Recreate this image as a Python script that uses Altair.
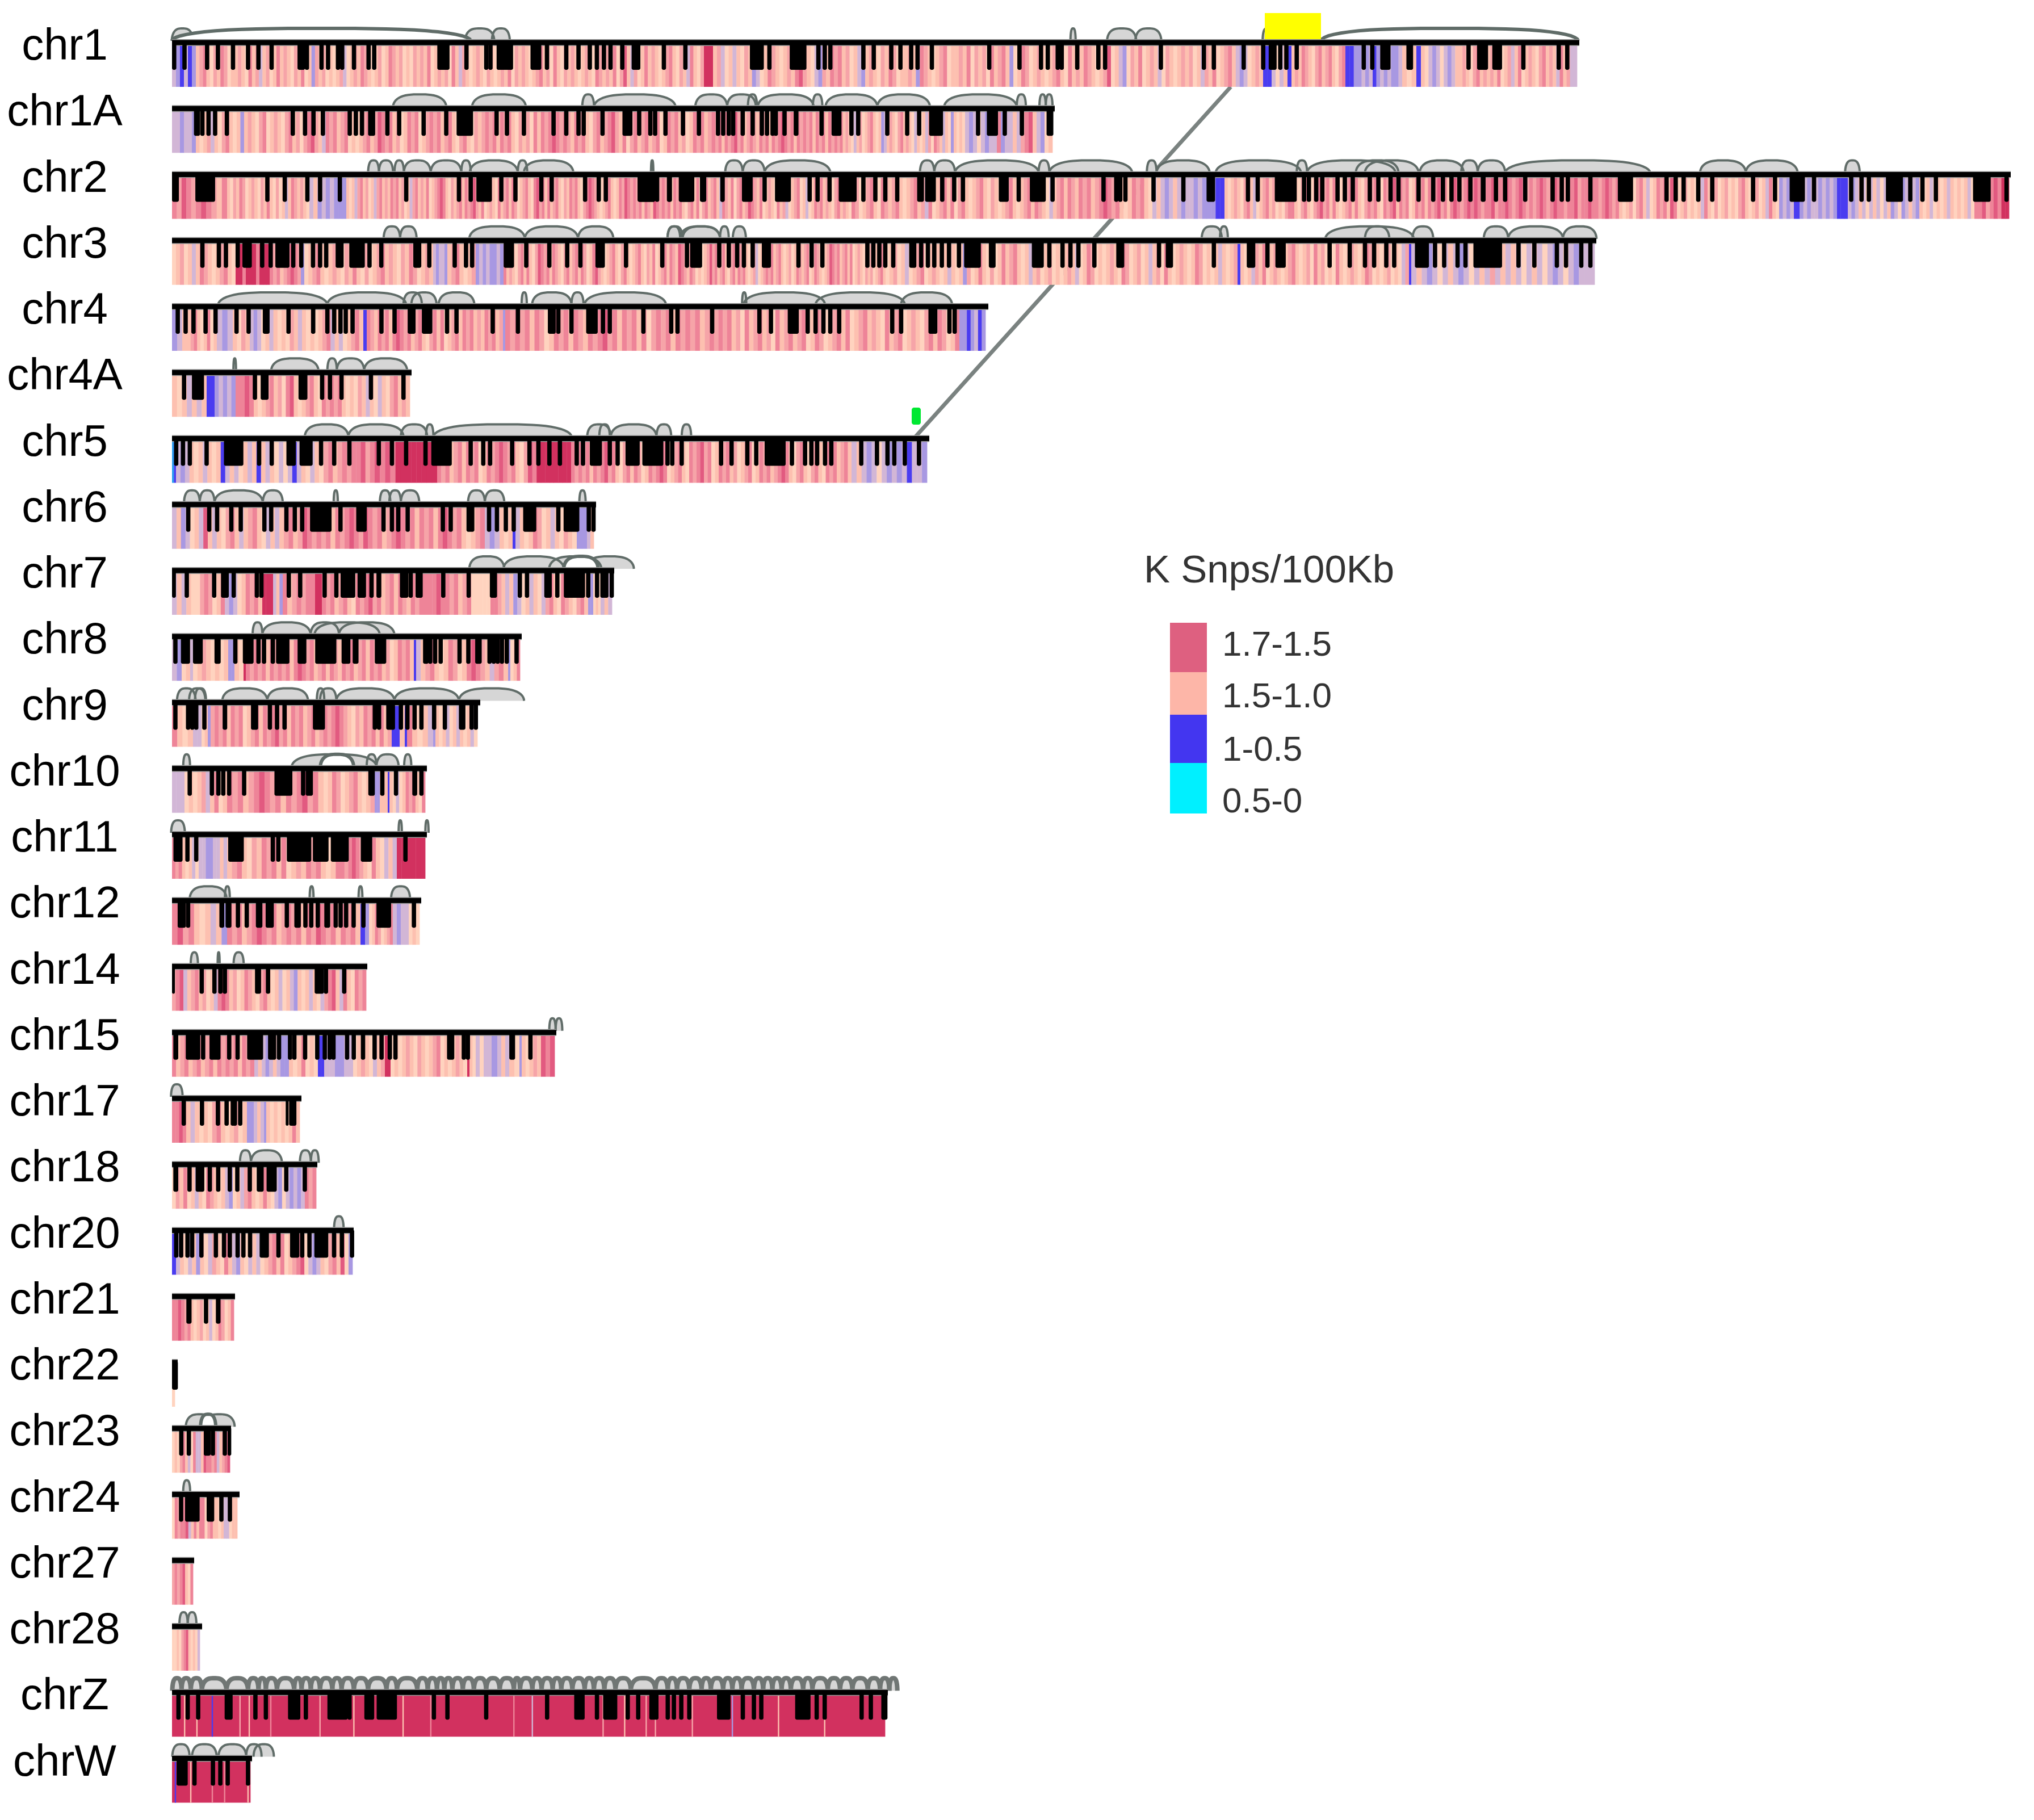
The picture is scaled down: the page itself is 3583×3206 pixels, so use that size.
import math
import re
import altair as alt
import pandas as pd

alt.data_transformers.disable_max_rows()

CHROMS = ["chr1","chr1A","chr2","chr3","chr4","chr4A","chr5","chr6","chr7","chr8","chr9","chr10","chr11","chr12",
          "chr14","chr15","chr17","chr18","chr20","chr21","chr22","chr23","chr24","chr27","chr28","chrZ","chrW"]
START = 303
ROW0, ROWSTEP = 75, 116.25
LINE_END = [2782,1858,3542,2812,1741,725,1637,1050,1082,919,846,752,752,742,647,980,531,559,623,414,313,407,422,342,356,1564,444]
HEAT_END = [2778,1854,3539,2809,1736,722,1633,1046,1078,916,841,749,749,739,645,977,528,557,621,412,308,405,418,340,352,1559,441]

# positions are read per reading window: (window left edge, magnification)
WIN = {"A":(0,1.206),"B":(1100,1.4255),"C":(1900,0.9317),"D":(290,1.0814),"E":(290,1.742),"F":(290,1.96),"G":(290,3.0),"H":(0,0.9224)}

HEAT_CODES = ["c","d","r","p","s","l","v","u","b","a"]
HEAT_COLORS = ["#D2315F","#E25A80","#EE8498","#F6A4A8","#FDC0B0","#FFD3BF","#D2B6D6","#A898E2","#4A3CF0","#2A9CF0"]

HEAT = {
"chr1":[(345,"vubvbu"),(1240,"sprslpsrplsspslrspvsplsrspslpsrlsupsplslspvlspsrpslsplsrpsplslpspsrlspsplrsvpslspslpslspsrlpspslsprsplrslpspslspslrpspsrlpcsvplsrspslsprslpsvrslp"),(1256,"cc"),
 (2225,"spvlsvslpsuvlsrpslspsrcpslvupsrprsplsvuspslpsrplsspsurpslsprlsspsrlpsplrsprsulsrplspslsprslrspsrpslspclsvulpsrlspsvlpslspsplsvpsrlsprsvuvlsps"),(2240,"bb"),(2268,"vlvs"),(2275,"b"),(2370,"spsrpslprsprslpr"),(2392,"bbu"),(2470,"uvuvbuvuvuuv"),(2495,"sls"),(2503,"b"),(2570,"slvuvlvuvs"),(2778,"spslprspspsrlspvsrlspslprspsvrspvv")],
"chr1A":[(345,"vvuvvu"),(1260,"slspvslprslsuspslprlspslprsplprcpsvrprsprlslsprspcrprsplsrprlsprprsprslprslpsprprsrprslpsplrsrprcrprpsrprslprsprcpsrlprsprsprlsrprsplsrprspr"),(1470,"prsrprcprsprpsrprsrprcrprsrprprsrprsrp"),(1620,"rprspslvsplsprslsuvspslprspslvs"),(1700,"lsvplrpsvsluslsl"),(1854,"vuvlvuvvruvvsvprcsvuls")],
"chr2":[(345,"rpcrp"),(400,"rcrpsr"),(545,"slpsrplspslpsrslplsvsrpspsl"),(610,"vsuvuvuuu"),(1100,"slsvprsplsvprspsrprsplsvprspsrlsprcrslpsprsrprcpsrlspslrsprsrplsprslrcprsrsprslpsrprslprcrpslsprslsrp"),(1500,"crprprsrpscrprprsrprslprsrlprsprsvrpsrlprspcrpsrlspslrspvlsprlsvlsrprspslprspsl"),(1900,"rplsprslrpsprslsprspvrlsprsrlprslsprslpslsprslsprsrpslvsprsrps"),(2030,"rprsprcrprslsrprsl"),(2110,"vsvuvsvuvvu"),(2157,"vuuubb"),(2560,"slspslprsvlsprsplslprrslprslprcprsrslsprsrslprprslrprcsrprlsrprsrprcprsr"),(2840,"crprcrcrprrcprrcrprcrprprcrprcrrprrcprrcrrprcr"),(3134,"prslsplprsvlsrprscrlsplslsvrslplsplslprslsplsvrsl"),(3160,"uvuv"),(3170,"bb"),(3236,"uvuvvuvuvu"),(3255,"bbb"),(3381,"vuvsvlvsvlvsuvluvsvu"),(3478,"slsvlslsvslslsvl"),(3539,"rrcprcrcc")],
"chr3":[(415,"lsplsvsrpslsprsl"),(475,"ccrcccrccc"),(530,"rprsprcrp"),(536,"u"),(763,"lsprslspslpsrslplsprspslpsrplsps"),(788,"vuvvu"),(838,"sprslsp"),(887,"uvuvuuvu"),(1250,"rspslprsrslpcrprsrpslprsprsrplsrcpslsprslprslsprslpsrlsprsrpscrpsrplslsp"),(1560,"cprsprslprsrprslspvlsprprsprslsplsrpsprlsrpslspcrprsprsrlspslpsplsprs"),(2180,"lsplsvlsprlspslsvslsuplsrslplsrsprslsvsplsplslspsvlsrplslspslrplsplsvsplrslspslsrplslsvslsp"),(2185,"b"),(2482,"slsvpsrlspslsprslsplrsplslrslspslsrplslsplslvp"),(2486,"b"),(2809,"vsvuvlvsvuvlvsvpvsvsvlvsvlvuvlvuvvv")],
"chr4":[(330,"uvs"),(382,"sprslsrls"),(410,"vuv"),(440,"slps"),(460,"vuv"),(640,"lsvslslpsvslslsprvsvlsprs"),(646,"b"),(886,"rpsrprsrcrprsprslprsrlsprsrprspsrprsp"),(890,"u"),(1250,"rprprsrplsrprsrpsrprcprsrprsrlprprsrprprsp"),(1690,"rprprsplrsprsplrsprsprlsrplsprsrlsprspslrsprlspslprsrplsr"),(1736,"uubuvbu")],
"chr4A":[(364,"slsvsvs"),(378,"bb"),(415,"uvuvu"),(447,"rrcr"),(722,"slsprsplrcslsprslrprprslslpsvslvslprsps")],
"chr5":[(310,"ab"),(570,"vuvslsvslsbvsvlsvsbsvslvlvbvslvsl"),(660,"prsprprrcpr"),(770,"crcrcccccccc"),(930,"rprsprsrprlsrprcrprslp"),(1006,"crcccccccc"),(1500,"rprprsrprcprslprsrplsrprcrlsprslrprcprlsrprsplsprlsrprsprcrslprslprslrprsprs"),(1633,"vsvuvlvuvuvbvvu")],
"chr6":[(500,"vsuvlsvcsvslprsvsprslvsvs"),(854,"prspcrprprsrprcrpcrprsprcrprsrprsrcrprslspr"),(880,"vuv"),(903,"sls"),(908,"b"),(1016,"vslsrplsvslpsl"),(1034,"uu"),(1046,"vs")],
"chr7":[(345,"vsvsl"),(462,"lprplsrvuvlsrprs"),(481,"ccc"),(498,"vsu"),(555,"rsprprr"),(567,"cc"),(746,"rprsprslrprcprsprsrpsrpr"),(784,"rrrcr"),(830,"rprspr"),(864,"lllll"),(890,"rrps"),(961,"vsuvlsvslv"),(1036,"prslrpslprs"),(1045,"uu"),(1058,"lsl"),(1078,"vsv")],
"chr8":[(320,"vu"),(335,"ls"),(340,"v"),(402,"lspslsls"),(413,"uu"),(429,"sl"),(433,"c"),(729,"rprprsrprprsrcrprsprsrpsrprsprsrprsplsrprs"),(733,"b"),(895,"vsprslsrplsrcrpsvprs"),(899,"u"),(916,"lsr")],
"chr9":[(340,"rsls"),(355,"vv"),(366,"ls"),(371,"u"),(690,"prprsrprlsprsrprcprsrprsprsprprcrpslpsrprsrsp"),(704,"b"),(713,"s"),(717,"b"),(763,"rslsv"),(767,"u"),(841,"slsvlsvslsvl")],
"chr10":[(325,"vvv"),(400,"lslspvsrls"),(570,"rprsprcrprsrprcprs"),(660,"lsrplsprslsp"),(669,"uu"),(683,"ss"),(686,"b"),(749,"slvlsrprslr")],
"chr11":[(350,"rprslsvl"),(400,"vvuuvvsv"),(600,"sprslpsrprsrlspsrprslsr"),(640,"rprcrp"),(699,"slrslvsv"),(749,"cccccc")],
"chr12":[(400,"rcprslsvsu"),(635,"rprsprcrprsprprsrpcrprsrprs"),(643,"b"),(650,"u"),(692,"lsrplspr"),(720,"vuvv"),(739,"lsl")],
"chr14":[(645,"prcvsprsplsvrcrsplsrpslprslsvlsvuslsvslvprcsvrslrpr")],
"chr15":[(448,"rsprsprsprsrprprsrpr"),(494,"vsvuvsv"),(509,"uu"),(560,"slsrlsl"),(571,"bb"),(590,"vv"),(606,"uu"),(622,"vv"),(678,"lspslvsp"),(688,"cc"),(823,"lslspslpslsprlslspsl"),(827,"c"),(838,"sl"),(866,"vlvv"),(876,"u"),(897,"vsv"),(915,"sl"),(919,"u"),(953,"slsps"),(977,"crc")],
"chr17":[(328,"rrcr"),(435,"svslslprslspls"),(447,"uu"),(465,"vsv"),(469,"u"),(528,"slslslsrs")],
"chr18":[(557,"lpsrlsvslrpslsvulsvprslsrslvulvuvuvrpr")],
"chr20":[(621,"bvslvsuslvpslrsvuslvsvlsprsrlsprclvuvslprsclu")],
"chr21":[(412,"rrcrprslsplsvlsrplsr")],
"chr22":[(308,"l")],
"chr23":[(405,"lslprsvlrvvscrrprvsprc")],
"chr24":[(418,"lrprrcvsrsrrlprsslsvvlss")],
"chr27":[(340,"prprcslr")],
"chr28":[(352,"llslprcslslv")],
"chrZ":[(1559,"c")],
"chrW":[(441,"c")],
}
# hair-thin stripes over the solid sex-chromosome tracks
THIN = {
"chrZ":[(300,"s"),(320,"s"),(345,"b"),(390,"p"),(405,"s"),(440,"r"),(520,"p"),(575,"s"),(655,"s"),(700,"r"),(835,"r"),(865,"v"),(980,"p"),(1015,"s"),(1050,"p"),(1065,"p"),(1125,"p"),(1190,"u"),(1265,"s"),(1340,"s")],
"chrW":[(285,"b"),(310,"s"),(345,"r"),(365,"r"),(403,"s")],
}

TEETH = {
"chr1":[("A",[370,392,440,463,495,527,549,577,(632,648),652,683,697,718,727,752,783,795,(929,955),991,1033,1042,(1055,1090),(1127,1150),1162,1203,1229,1253,1268,1283,1297,1322]),
        ("B",[(18,40),99,153,(315,350),364,(415,457),487,503,517,600,626,670,693,720,736,772,916,992,1046,1063,1088,1098,1137,1190,1207,1347,1455,1480,1555]),
        ("C",[303,(312,325),331,341,358,468,482,(495,512),(538,549),640,(654,672),(679,695),730,788,802])],
"chr1A":[("A",[(412,425),430,443,457,482,622,648,666,686,743,756,769,(782,797),823,848,900,948,(970,1005),1055,1077,1113,1176,1203,1229,1240,1280]),
         ("B",[(-5,20),37,65,77,103,147,187,235,248,262,273,297,322,345,358,372,380,402,(425,437),495,(520,545),570,587,660,710,740,(765,800),888,(910,938),955,998,(1060,1077)])],
"chr2":[("A",[(365,380),(415,457),568,605,653,680,722,863,975,1000,(1012,1045),1065,1095,1150,1172,1243,1272,1287,(1355,1392),1423,(1442,1475),1493,1535]),
        ("B",[(33,77),82,112,(137,170),195,200,246,(295,322),352,(378,418),465,485,515,(538,583),600,630,655,685,(735,752),(755,782),798,828,850,(940,965),990,(1018,1058),1075,1203,1235,1245,1258]),
        ("C",[123,172,(210,224),278,294,(322,358),370,378,390,400,425,437,450,478,492,512,525,558,582,598,612,625,643,(660,668),685,700,733,778,793,803,840,(885,910),965,980,993,1017,1040,1107,1143,(1167,1192),1207,1268,1285,1297,(1325,1353),1365,1385,1407,(1468,1497),1523])],
"chr3":[("A",[430,465,480,505,(515,535),557,575,(585,615),623,640,665,680,693,(713,730),(742,775),785,810,(878,895),912,966,990,1003,(1070,1092),1118,1167,1205,1233,(1265,1285),1330]),
        ("B",[95,157,(165,195),238,262,283,300,322,(345,368),437,470,497,610,625,640,655,675,(715,733),745,762,778,797,815,840,(853,895),(915,932),(1023,1053),1067,1100,1120,1140,1180,(1235,1255)]),
        ("C",[132,(143,155),222,(276,290),310,(323,340),412,445,470,485,505,518,(552,575),585,600,622,635,(648,695),722,748,785,800,825,840])],
"chr4":[("D",[25,40,55,78,97,137,160,(187,200),236,283,310,323,335,345,358,413,438,(463,478),(490,510),538,556,625,673,(730,745),750,775,(803,825),835,848,912,965,977,1043,1133,1155,(1187,1208),1225,1240,1255,1268,1285,1386,1403,(1455,1472),1495,1505])],
"chr4A":[("D",[37,(52,75),172,(183,198),(255,272),300,315,337,393,455])],
"chr5":[("D",[22,35,48,80,(113,150),180,204,(232,250),(257,282),298,323,352,408,433,460,497,(508,547),583,607,620,662,695,712,733,753,785,797,(810,833),848,863,(878,905),(910,950),958,967,985,1060,1080,1110,1127,(1143,1183),1195,1220,1232,1243,1258,1270,1327,1357,1377,1390,1410,1437])],
"chr6":[("D",[45,85,100,127,145,190,203,232,248,262,(277,318),335,(365,385),417,433,445,463,530,545,(575,590),618,633,650,665,(683,708),750,(760,790),808,817])],
"chr7":[("E",[28,68,152,(173,197),212,283,297,381,416,491,527,(540,585),(592,618),635,(650,665),(722,748),755,(770,792),855,933,(998,1020),1090,1112,(1165,1188),1205,(1225,1290),1300,1327,(1337,1362),1372])],
"chr8":[("E",[33,(50,78),(87,117),(153,172),217,(240,273),288,305,332,(342,383),(408,435),(462,527),(543,570),(577,595),(645,680),(793,810),815,830,847,905,932,(953,973),997,1010,1022,1035,1050,1080])],
"chr9":[("E",[33,72,85,97,122,(178,192),(265,287),323,345,368,(455,492),645,658,(680,707),725,745,767,788,827,860,(903,923),942,955])],
"chr10":[("E",[77,145,165,180,198,244,(337,392),425,(433,455),(625,645),668,710,(760,775),788])],
"chr11":[("E",[(27,55),70,97,(195,243),332,349,(375,450),(455,503),(510,565),(602,637),739])],
"chr12":[("E",[(40,65),72,(168,183),(187,205),225,252,(280,300),(310,335),375,(398,418),432,450,470,(490,508),525,540,557,580,610,(650,695),765])],
"chr14":[("F",[28,128,172,(185,200),208,(312,333),357,(518,550),557,620])],
"chr15":[("F",[(30,47),(73,123),133,(155,193),223,252,(285,340),(357,385),395,433,448,485,527,553,570,583,630,653,685,725,749,(770,785),797,(975,1000),1033,1047,(1190,1210),1263])],
"chr17":[("F",[66,129,184,214,(228,250),261,(418,428),(430,455)])],
"chr18":[("F",[(30,47),86,(107,137),156,185,225,251,294,(318,342),(352,387),420,484])],
"chr20":[("F",[40,57,79,95,127,177,205,225,252,272,295,(328,360),393,(433,465),475,500,(517,565),585,612,647])],
"chr21":[("F",[(75,93),143,(177,193)])],
"chr22":[("G",[(37,70)])],
"chr23":[("G",[88,128,(207,243),255,318,(333,352)])],
"chr24":[("G",[87,(108,185),(222,262),300,345])],
"chr27":[],
"chr28":[],
"chrZ":[("H",[290,305,322,(365,378),415,432,(468,488),497,(532,565),568,(592,608),(612,645),705,727,790,889,(933,950),970,(980,1003),1020,1037,(1055,1070),1085,1095,1107,1120,(1165,1187),1207,1225,1237,(1292,1317),1327,1340,1400,1415,(1432,1442)])],
"chrW":[("H",[(287,305),316,346,358,370,403])],
}

# arcs: (window, start, end, fill)  g = grey, w = open (white inside)
ARCS = {
"chr1":[("A",365,1000,"w"),("A",365,410,"g"),("A",988,1050,"g"),("A",1045,1083,"g"),("B",1120,1133,"g"),("B",1212,1285,"g"),("B",1283,1348,"g"),("C",302,316,"g"),("C",398,820,"w")],
"chr1A":[("A",835,948,"g"),("A",1003,1117,"g"),("A",1237,1262,"g"),("A",1262,1435,"g"),("B",178,258,"g"),("B",258,330,"g"),("B",310,333,"g"),("B",335,475,"g"),("B",473,497,"g"),("B",505,635,"g"),("B",635,767,"g"),("B",803,985,"g"),("B",985,1008,"g"),("B",1042,1058,"g"),("B",1058,1075,"g")],
"chr2":[("A",782,805,"g"),("A",805,835,"g"),("A",838,858,"g"),("A",858,915,"g"),("A",915,980,"g"),("A",980,1000,"g"),("A",998,1100,"g"),("A",1100,1120,"g"),("A",1113,1218,"g"),("A",1383,1388,"g"),("B",253,297,"g"),("B",297,352,"g"),("B",352,517,"g"),("B",742,778,"g"),("B",778,830,"g"),("B",830,1040,"g"),("B",1040,1067,"g"),("B",1067,1275,"g"),("C",112,128,"g"),("C",128,215,"g"),("C",225,365,"g"),("C",358,375,"g"),("C",375,520,"g"),("C",455,525,"g"),("C",470,558,"g"),("C",560,632,"g"),("C",628,655,"g"),("C",655,700,"g"),("C",700,938,"g"),("C",1020,1095,"g"),("C",1095,1180,"g"),("C",1258,1282,"g")],
"chr3":[("A",815,850,"g"),("A",850,885,"g"),("A",997,1115,"g"),("A",1115,1228,"g"),("A",1228,1303,"g"),("A",1418,1450,"g"),("A",1450,1530,"g"),("B",108,140,"g"),("B",140,240,"g"),("B",240,262,"g"),("B",272,305,"g"),("C",202,235,"g"),("C",232,245,"g"),("C",405,550,"g"),("C",470,510,"g"),("C",548,582,"g"),("C",665,705,"g"),("C",705,795,"g"),("C",795,850,"g")],
"chr4":[("D",102,310,"g"),("D",310,460,"g"),("D",455,490,"g"),("D",470,518,"g"),("D",522,590,"g"),("D",680,690,"g"),("D",700,775,"g"),("D",775,798,"g"),("D",800,955,"g"),("D",1100,1108,"g"),("D",1103,1258,"g"),("D",1240,1410,"g"),("D",1403,1500,"g")],
"chr4A":[("D",131,136,"g"),("D",203,293,"g"),("D",310,328,"g"),("D",328,380,"g"),("D",380,462,"g")],
"chr5":[("D",267,350,"g"),("D",350,455,"g"),("D",450,500,"g"),("D",498,512,"g"),("D",512,775,"g"),("D",805,850,"g"),("D",828,848,"g"),("D",850,937,"g"),("D",937,965,"g"),("D",985,1003,"g")],
"chr6":[("D",37,67,"g"),("D",67,95,"g"),("D",95,187,"g"),("D",187,225,"g"),("D",322,330,"g"),("D",410,430,"g"),("D",428,450,"g"),("D",450,485,"g"),("D",578,610,"g"),("D",610,647,"g"),("D",790,802,"g")],
"chr7":[("E",935,1042,"g"),("E",1040,1225,"g"),("E",1180,1340,"g"),("E",1290,1440,"g"),("E",1225,1330,"w")],
"chr8":[("E",270,300,"g"),("E",300,448,"g"),("E",460,660,"g"),("E",448,535,"g"),("E",535,705,"g")],
"chr9":[("E",38,95,"g"),("E",75,125,"g"),("E",93,127,"g"),("E",177,315,"g"),("E",315,440,"g"),("E",467,490,"g"),("E",477,527,"g"),("E",527,705,"g"),("E",705,903,"g"),("E",903,1103,"g")],
"chr10":[("E",57,78,"g"),("E",390,650,"g"),("E",620,650,"g"),("E",650,718,"g"),("E",735,757,"g"),("E",478,580,"w")],
"chr11":[("E",20,62,"g"),("E",718,728,"g"),("E",800,810,"g")],
"chr12":[("E",77,190,"g"),("E",185,200,"g"),("E",445,457,"g"),("E",595,607,"g"),("E",695,753,"g")],
"chr14":[("F",90,115,"g"),("F",183,190,"g"),("F",238,273,"g")],
"chr15":[("F",1328,1350,"g"),("F",1350,1373,"g")],
"chr17":[("F",22,62,"g")],
"chr18":[("F",260,298,"g"),("F",298,405,"g"),("F",467,505,"g"),("F",505,532,"g")],
"chr20":[("F",585,618,"g")],
"chr23":[("G",112,260,"g"),("G",205,370,"g"),("G",190,270,"w")],
"chr24":[("G",98,135,"g")],
"chr28":[("G",78,122,"g"),("G",122,168,"g")],
"chrW":[("H",280,308,"g"),("H",312,352,"g"),("H",355,400,"g"),("H",400,425,"g"),("H",412,445,"g")],
}
Z_ARC_EDGES = [280,295,310,328,368,403,420,432,450,478,490,505,520,540,555,575,598,628,645,678,695,710,722,735,752,770,790,812,835,845,865,880,898,912,930,950,965,982,1000,1025,1065,1085,1100,1120,1140,1155,1175,1190,1205,1225,1240,1255,1270,1285,1305,1320,1345,1365,1385,1410,1430,1445,1458]
ARCS["chrZ"] = [("H",a,b,"g") for a,b in zip(Z_ARC_EDGES[:-1],Z_ARC_EDGES[1:])]

LEGEND_TITLE = "K Snps/100Kb"
LEGEND_LABELS = ["1.7-1.5","1.5-1.0","1-0.5","0.5-0"]
LEGEND_COLORS = ["#DE6080","#FDB6A8","#4336F0","#00F0FF"]
LEGEND_EDGES = [1097,1184,1259,1344,1433]
LEGEND_TEXT_Y = [1136,1227,1321,1412]

def full(win, v):
    x0, k = WIN[win]
    return x0 + v / k

row_y = {c: ROW0 + i * ROWSTEP for i, c in enumerate(CHROMS)}

# a lone crimson stripe reads softer than a solid crimson run in the picture
def soften(codes):
    return re.sub(r"(?<!c)c(?!c)", "d", codes) if len(codes) > 1 else codes

heat_rows, teeth_rows, line_rows, arc_rows = [], [], [], []
for i, c in enumerate(CHROMS):
    y = row_y[c]
    line_rows.append(dict(x=START, x2=LINE_END[i], y=y))
    prev = START
    segs = HEAT.get(c, [])
    segs = segs[:-1] + [(HEAT_END[i], segs[-1][1])]
    for end, codes in segs:
        codes = soften(codes)
        w = (end - prev) / len(codes)
        for j, code in enumerate(codes):
            heat_rows.append(dict(x=prev + j * w, x2=prev + (j + 1) * w + 0.4, y=y + 4, y2=y + 78, code=code))
        prev = end
    for v, code in THIN.get(c, []):
        m = full("H", v)
        heat_rows.append(dict(x=m - 1.2, x2=m + 1.2, y=y + 4, y2=y + 78, code=code))
    for win, vals in TEETH.get(c, []):
        for v in vals:
            if isinstance(v, tuple):
                a, b = full(win, v[0]), full(win, v[1])
            else:
                m = full(win, v)
                a, b = m - 3.8, m + 3.8
            teeth_rows.append(dict(x=max(a, START), x2=b, y=y, y2=y + 48))
    for n, (win, a, b, fill) in enumerate(ARCS.get(c, [])):
        xa, xb = full(win, a), full(win, b)
        mid, half = (xa + xb) / 2, (xb - xa) / 2
        for k in range(-14, 15):
            s = math.sin(k / 14 * math.pi / 2)
            rise = (1 - abs(s) ** 3) ** 0.5
            arc_rows.append(dict(id=f"{c}-{n}", k=k, x=mid + half * s, y=y - 3 - 22 * rise, y2=y - 3, kind=fill, dense=c == "chrZ"))

X = alt.Scale(domain=[8, 3575], nice=False, zero=False)
Y = alt.Scale(domain=[3198, 8], nice=False, zero=False)
xe = lambda f="x": alt.X(f"{f}:Q", scale=X, axis=None, title=None)
ye = lambda f="y": alt.Y(f"{f}:Q", scale=Y, axis=None, title=None)
x2e = alt.X2("x2:Q")
y2e = alt.Y2("y2:Q")

link = alt.Chart(pd.DataFrame(dict(x=[1612, 2168], y=[770, 153]))).mark_line(color="#7A8280", strokeWidth=7).encode(x=xe(), y=ye())

heat = alt.Chart(pd.DataFrame(heat_rows)).mark_rect().encode(
    x=xe(), x2=x2e, y=ye(), y2=y2e,
    color=alt.Color("code:N", scale=alt.Scale(domain=HEAT_CODES, range=HEAT_COLORS), legend=None))

arcs = pd.DataFrame(arc_rows)
grey = arcs[(arcs.kind == "g") & (~arcs.dense)]
dense = arcs[arcs.dense]
open_ = arcs[arcs.kind == "w"]
arc_fill = alt.Chart(pd.concat([grey, dense])).mark_area(color="#D6D6D6", opacity=1, orient="vertical", line=False).encode(
    x=xe(), y=ye(), y2=y2e, detail="id:N")
arc_stroke = alt.Chart(grey).mark_line(color="#606C68", strokeWidth=4).encode(
    x=xe(), y=ye(), detail="id:N", order="k:Q")
dense_stroke = alt.Chart(dense).mark_line(color="#707674", strokeWidth=8).encode(
    x=xe(), y=ye(), detail="id:N", order="k:Q")
open_fill = alt.Chart(open_).mark_area(color="#FFFFFF", opacity=1, orient="vertical", line=False).encode(
    x=xe(), y=ye(), y2=y2e, detail="id:N")
open_stroke = alt.Chart(open_).mark_line(color="#606C68", strokeWidth=6).encode(
    x=xe(), y=ye(), detail="id:N", order="k:Q")

lines = pd.DataFrame(line_rows)
halo = alt.Chart(lines).mark_rule(color="#9A9A9A", strokeWidth=12).encode(x=xe(), x2=x2e, y=ye())
line = alt.Chart(lines).mark_rule(color="#000000", strokeWidth=9).encode(x=xe(), x2=x2e, y=ye())

teeth = alt.Chart(pd.DataFrame(teeth_rows)).mark_rect(color="#000000", cornerRadiusBottomLeft=3, cornerRadiusBottomRight=3).encode(
    x=xe(), x2=x2e, y=ye(), y2=y2e)

yellow = alt.Chart(pd.DataFrame(dict(x=[2228], x2=[2327], y=[23], y2=[72]))).mark_rect(color="#FFFF00").encode(
    x=xe(), x2=x2e, y=ye(), y2=y2e)
green = alt.Chart(pd.DataFrame(dict(x=[1606], x2=[1622], y=[718], y2=[748]))).mark_rect(color="#00E832", cornerRadius=4).encode(
    x=xe(), x2=x2e, y=ye(), y2=y2e)

labels = alt.Chart(pd.DataFrame(dict(x=[114] * len(CHROMS), y=[row_y[c] + 7 for c in CHROMS], t=CHROMS))).mark_text(
    font="Liberation Sans", fontSize=78, color="#000000", align="center", baseline="middle").encode(
    x=xe(), y=ye(), text="t:N")

leg_rect = alt.Chart(pd.DataFrame(dict(x=[2061] * 4, x2=[2126] * 4, y=LEGEND_EDGES[:-1], y2=LEGEND_EDGES[1:], c=LEGEND_LABELS))).mark_rect().encode(
    x=xe(), x2=x2e, y=ye(), y2=y2e,
    color=alt.Color("c:N", scale=alt.Scale(domain=LEGEND_LABELS, range=LEGEND_COLORS), legend=None))
leg_text = alt.Chart(pd.DataFrame(dict(x=[2153] * 4, y=LEGEND_TEXT_Y, t=LEGEND_LABELS))).mark_text(
    font="Liberation Sans", fontSize=62, color="#333333", align="left", baseline="middle").encode(
    x=xe(), y=ye(), text="t:N")
leg_title = alt.Chart(pd.DataFrame(dict(x=[2015], y=[1005], t=[LEGEND_TITLE]))).mark_text(
    font="Liberation Sans", fontSize=69, color="#333333", align="left", baseline="middle").encode(
    x=xe(), y=ye(), text="t:N")

chart = alt.layer(link, arc_fill, arc_stroke, dense_stroke, open_fill, open_stroke, yellow, green, heat, halo, line, teeth,
                  labels, leg_rect, leg_text, leg_title).resolve_scale(color="independent").properties(
    width=3567, height=3190, padding=0, autosize="none", background="#FFFFFF"
).configure_view(stroke=None)

chart.save("out.html", embed_options={"renderer": "svg", "actions": False})
